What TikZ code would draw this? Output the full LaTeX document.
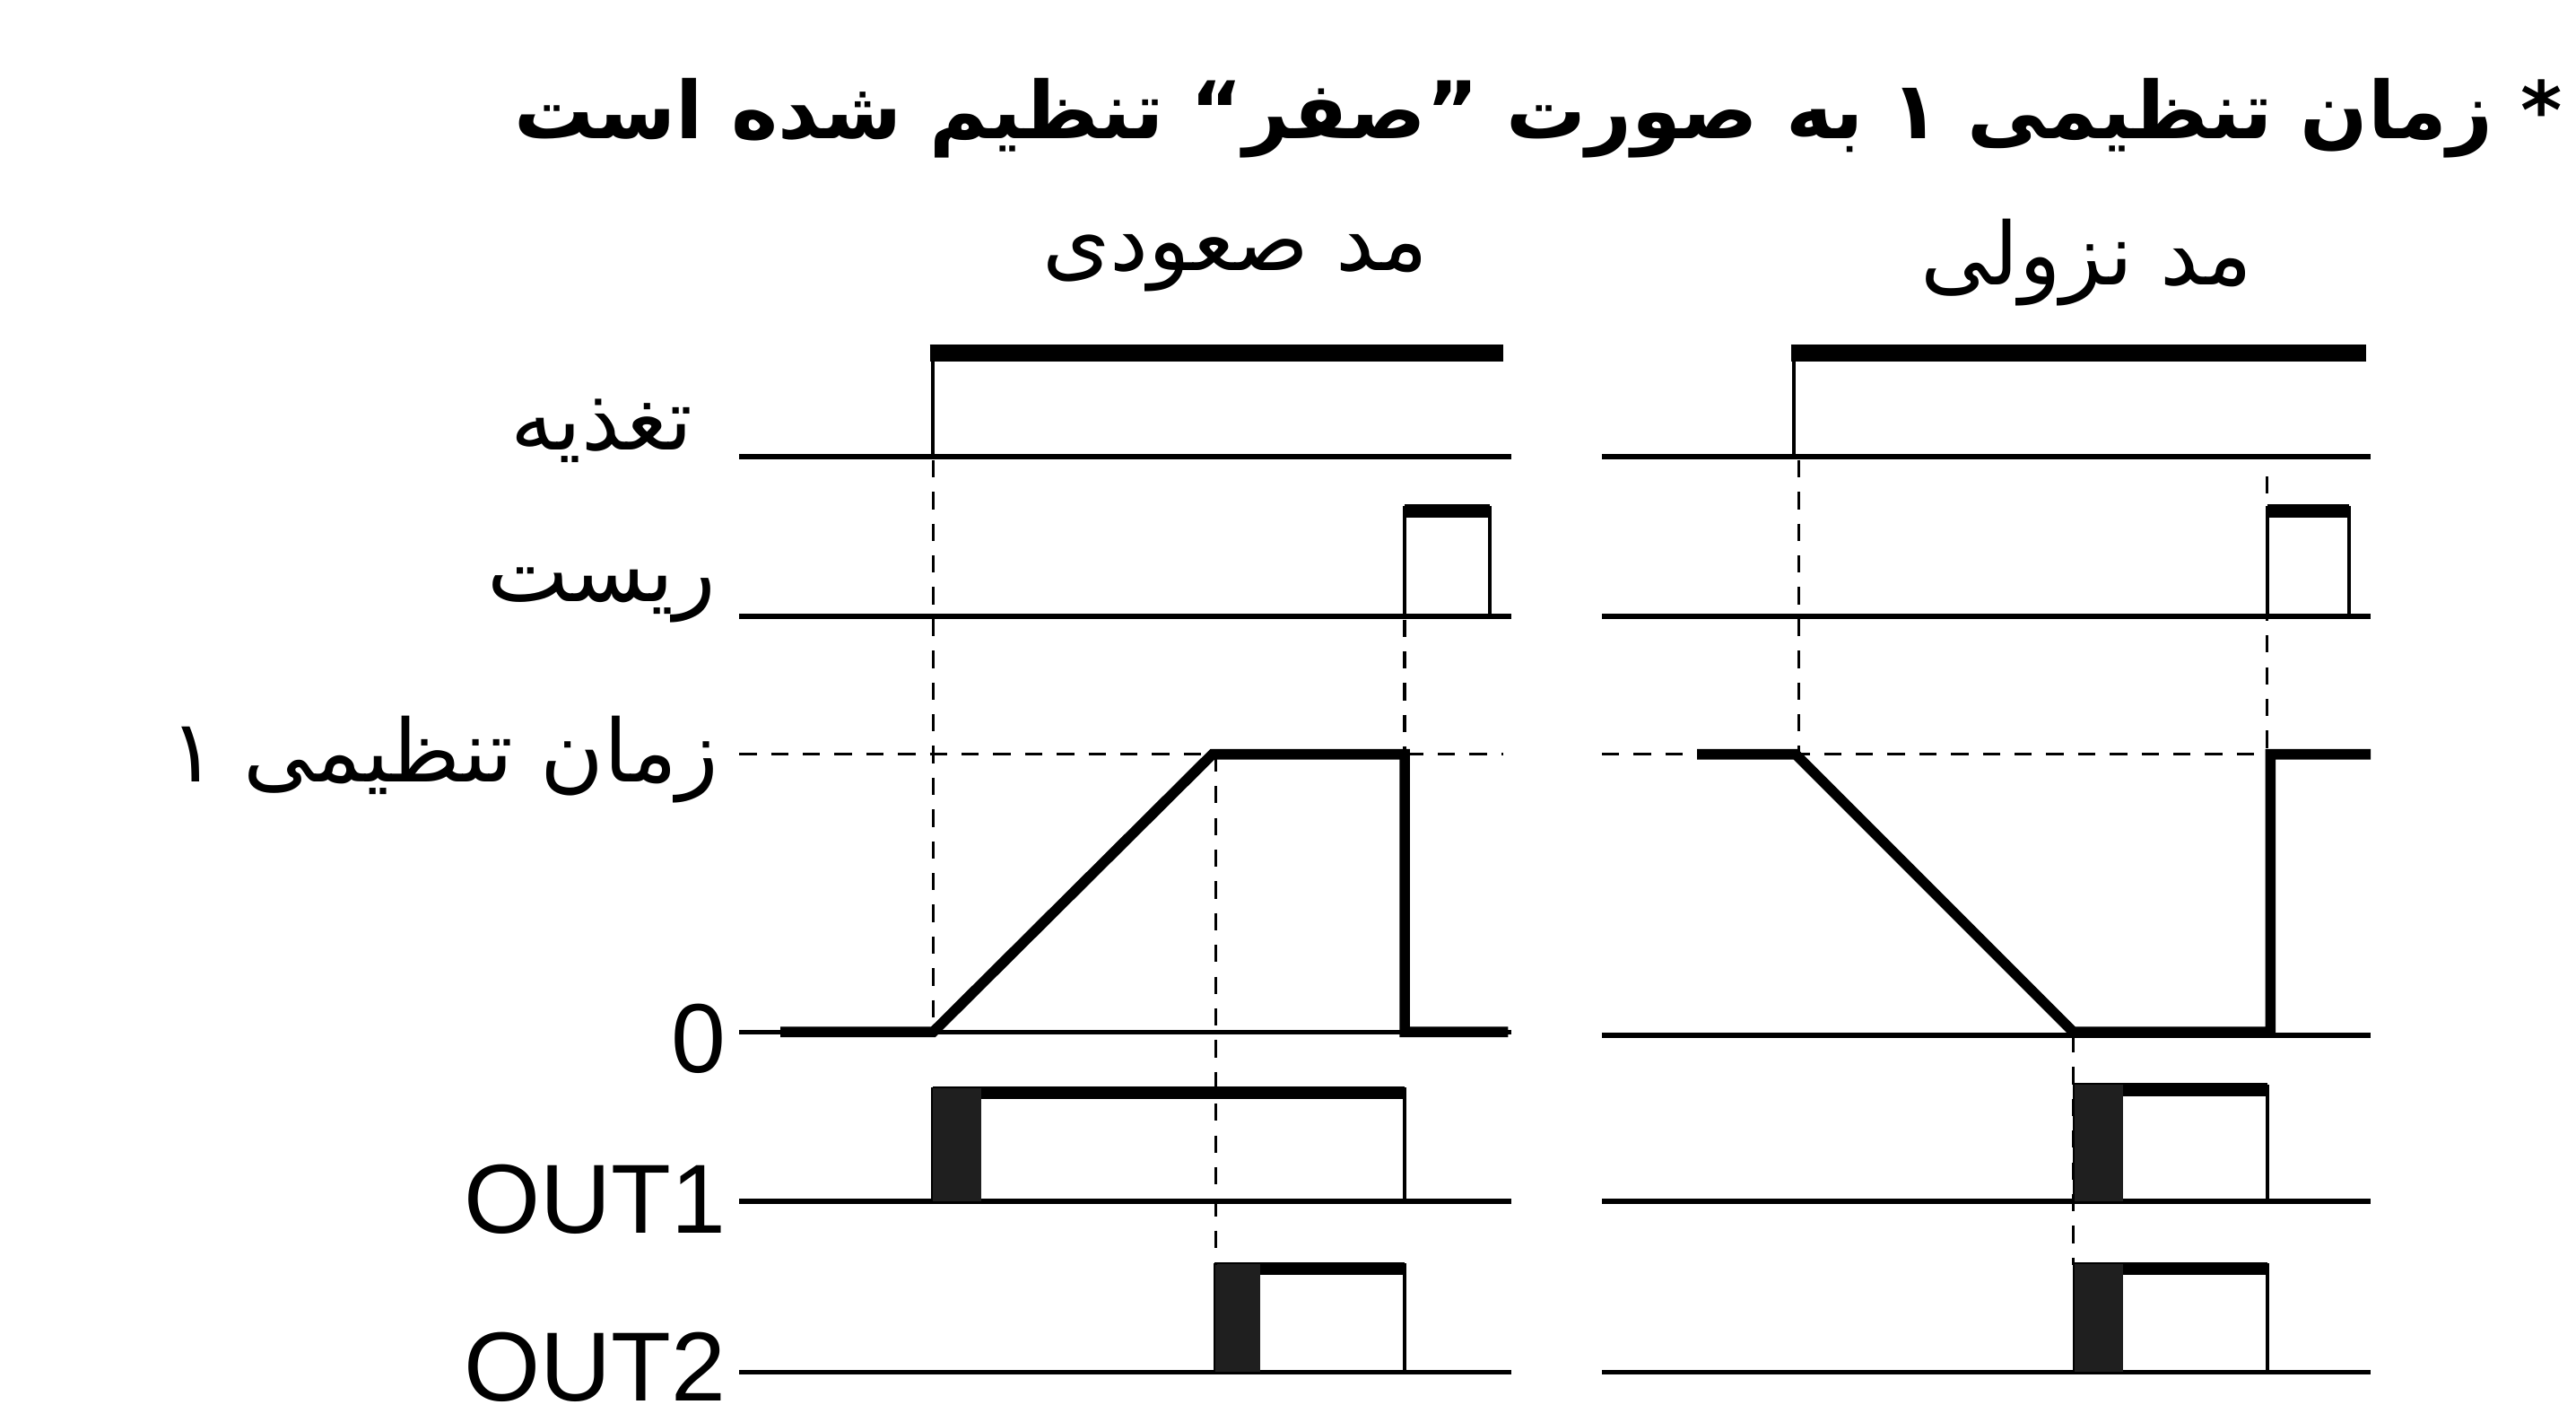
\documentclass[tikz,border=0pt]{standalone}
\usepackage{fontspec}
\setmainfont{Liberation Sans}
\newfontfamily\farsi[Script=Arabic]{DejaVu Sans}
\TeXXeTstate=1
\usetikzlibrary{positioning}

\tikzset{
  axisline/.style={line width=1.7pt},
  highbar/.style={line width=6pt},
  pulsetop/.style={line width=4.5pt},
  edgeline/.style={line width=1.3pt},
  rampline/.style={line width=3.6pt},
  guide/.style={line width=1pt, dash pattern=on 6pt off 5pt},
  outblock/.style={fill=black!88},
  falabel/.style={font=\farsi\fontsize{30}{34}\selectfont, inner sep=0pt},
  latlabel/.style={font=\fontsize{34}{38}\selectfont, inner sep=0pt},
}

\begin{document}
\begin{tikzpicture}[x=0.02cm, y=-0.02cm]
    \useasboundingbox (0,0) rectangle (1568,865);

    % Title and mode headings
    \node[falabel, font=\farsi\bfseries\fontsize{27.5}{32}\selectfont, anchor=east] (title) at (1560,72) {\beginR * زمان تنظیمی ۱ به صورت ”صفر“ تنظیم شده است\endR};
    \node[falabel] (upmode) at (752,160) {\beginR مد صعودی\endR};
    \node[falabel] (downmode) at (1270,160) {\beginR مد نزولی\endR};

    % Row labels
    \node[falabel, anchor=east] (power) at (422,262) {\beginR تغذیه\endR};
    \node[falabel, anchor=east] (reset) at (436,362) {\beginR ریست\endR};
    \node[falabel, anchor=east] (setval) at (438,462) {\beginR زمان تنظیمی ۱\endR};
    \node[latlabel, anchor=east] (zero) at (442,632) {0};
    \node[latlabel, anchor=east] (out1) at (442,730) {OUT1};
    \node[latlabel, anchor=east] (out2) at (442,832) {OUT2};

    % ---- Up mode (left) ----
    % supply
    \draw[axisline] (450,278) -- (920,278);
    \draw[edgeline] (568,278) -- (568,213);
    \draw[highbar] (566,215) -- (915,215);
    % reset
    \draw[axisline] (450,375) -- (920,375);
    \draw[edgeline] (855,375) -- (855,309) -- (907,309) -- (907,375);
    \draw[pulsetop] (855,311) -- (907,311);
    % set value
    \draw[guide] (450,459) -- (915,459);
    \draw[axisline] (450,628) -- (920,628);
    \draw[rampline] (475,628) -- (568,628) -- (738,459) -- (855,459) -- (855,628) -- (918,628);
    % OUT1
    \draw[axisline] (450,731) -- (920,731);
    \draw[edgeline] (568,731) -- (568,663) -- (855,663) -- (855,731);
    \draw[pulsetop] (568,665) -- (855,665);
    \fill[outblock] (568,662) rectangle (597,731);
    % OUT2
    \draw[axisline] (450,835) -- (920,835);
    \draw[edgeline] (740,835) -- (740,770) -- (855,770) -- (855,835);
    \draw[pulsetop] (740,772) -- (855,772);
    \fill[outblock] (740,769) rectangle (767,835);
    % guides
    \draw[guide] (568,280) -- (568,628);
    \draw[guide] (855,377) -- (855,459);
    \draw[guide] (740,459) -- (740,770);

    % ---- Down mode (right) ----
    % supply
    \draw[axisline] (975,278) -- (1443,278);
    \draw[edgeline] (1092,278) -- (1092,213);
    \draw[highbar] (1090,215) -- (1440,215);
    % reset
    \draw[axisline] (975,375) -- (1443,375);
    \draw[edgeline] (1380,375) -- (1380,309) -- (1430,309) -- (1430,375);
    \draw[pulsetop] (1380,311) -- (1430,311);
    % set value
    \draw[guide] (975,459) -- (1443,459);
    \draw[axisline] (975,630) -- (1443,630);
    \draw[rampline] (1033,459) -- (1093,459) -- (1262,628) -- (1382,628) -- (1382,459) -- (1443,459);
    % OUT1
    \draw[axisline] (975,731) -- (1443,731);
    \draw[edgeline] (1263,731) -- (1263,661) -- (1380,661) -- (1380,731);
    \draw[pulsetop] (1263,663) -- (1380,663);
    \fill[outblock] (1263,660) rectangle (1292,731);
    % OUT2
    \draw[axisline] (975,835) -- (1443,835);
    \draw[edgeline] (1263,835) -- (1263,770) -- (1380,770) -- (1380,835);
    \draw[pulsetop] (1263,772) -- (1380,772);
    \fill[outblock] (1263,769) rectangle (1292,835);
    % guides
    \draw[guide] (1095,280) -- (1095,459);
    \draw[guide] (1380,290) -- (1380,459);
    \draw[guide] (1262,630) -- (1262,770);
\end{tikzpicture}
\end{document}
